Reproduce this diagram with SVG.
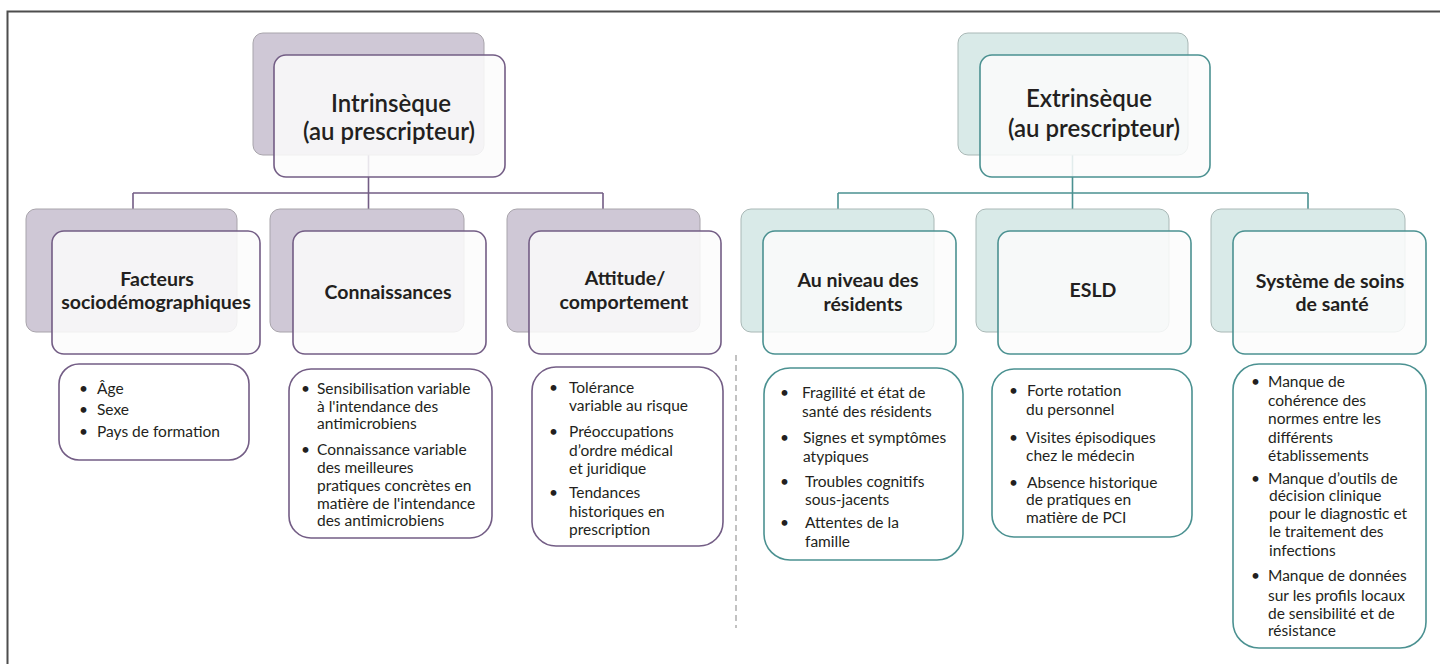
<svg xmlns="http://www.w3.org/2000/svg" width="1440" height="664" viewBox="0 0 1440 664">
  <style>
    .frame { fill: none; stroke: #4d4d4d; stroke-width: 2; }
    .back-p { fill: #cfc8d6; stroke: #a8a4ab; stroke-width: 1; }
    .back-t { fill: #d9eae8; stroke: #a9b8b6; stroke-width: 1; }
    .front-p { fill: #fbfbfc; fill-opacity: 0.86; stroke: #735d85; stroke-width: 1.6; }
    .front-t { fill: #fbfbfc; fill-opacity: 0.86; stroke: #4b9191; stroke-width: 1.6; }
    .list-p { fill: #ffffff; stroke: #735d85; stroke-width: 1.6; }
    .list-t { fill: #ffffff; stroke: #4b9191; stroke-width: 1.6; }
    .wire-p { fill: none; stroke: #735d85; stroke-width: 1.6; }
    .wire-t { fill: none; stroke: #4b9191; stroke-width: 1.6; }
    .divider { fill: none; stroke: #9a9a9a; stroke-width: 1.2; stroke-dasharray: 6 4; }
    .root { font-family: Lato, "Liberation Sans", sans-serif; font-weight: 600; font-size: 24px; fill: #231f20; text-anchor: middle; }
    .head { font-family: Lato, "Liberation Sans", sans-serif; font-weight: 700; font-size: 19.5px; fill: #231f20; text-anchor: middle; }
    .item { font-family: Lato, "Liberation Sans", sans-serif; font-size: 15.5px; fill: #231f20; }
  </style>

  <!-- outer frame (left and top edges) -->
  <path class="frame" d="M7.5 664 V11.5 H1440"/>

  <!-- connectors -->
  <g id="connectors">
    <path class="wire-p" d="M368.5 155 V193 M133 193 H603 M133 193 V209 M368.5 193 V209 M603 193 V209"/>
    <path class="wire-t" d="M1072.5 155 V193 M838 193 H1308 M838 193 V209 M1072.5 193 V209 M1308 193 V209"/>
    <path class="divider" d="M736 355 V628"/>
  </g>

  <!-- root: intrinsic factors -->
  <g id="intrinseque">
    <rect class="back-p" x="253" y="33" width="231" height="122" rx="10"/>
    <rect class="front-p" x="274" y="55" width="231" height="122" rx="12"/>
    <text class="root" x="391" y="112">Intrinsèque</text>
    <text class="root" x="389" y="140">(au prescripteur)</text>
  </g>

  <!-- root: extrinsic factors -->
  <g id="extrinseque">
    <rect class="back-t" x="958" y="33" width="230" height="122" rx="10"/>
    <rect class="front-t" x="980" y="55" width="230" height="122" rx="12"/>
    <text class="root" x="1089" y="107">Extrinsèque</text>
    <text class="root" x="1094" y="137">(au prescripteur)</text>
  </g>

  <!-- intrinsic categories -->
  <g id="sociodemographiques">
    <rect class="back-p" x="26" y="209" width="211" height="123" rx="10"/>
    <rect class="front-p" x="52" y="231" width="208" height="123" rx="12"/>
    <text class="head" x="157" y="286">Facteurs</text>
    <text class="head" x="156" y="309">sociodémographiques</text>
  </g>
  <g id="connaissances">
    <rect class="back-p" x="270" y="209" width="194" height="123" rx="10"/>
    <rect class="front-p" x="293" y="231" width="193" height="123" rx="12"/>
    <text class="head" x="388" y="299">Connaissances</text>
  </g>
  <g id="attitude">
    <rect class="back-p" x="507" y="209" width="193" height="123" rx="10"/>
    <rect class="front-p" x="529" y="231" width="192" height="123" rx="12"/>
    <text class="head" x="625" y="285">Attitude/</text>
    <text class="head" x="624" y="309">comportement</text>
  </g>

  <!-- extrinsic categories -->
  <g id="residents">
    <rect class="back-t" x="741" y="209" width="193" height="123" rx="10"/>
    <rect class="front-t" x="763" y="231" width="193" height="123" rx="12"/>
    <text class="head" x="858" y="287">Au niveau des</text>
    <text class="head" x="863" y="311">résidents</text>
  </g>
  <g id="esld">
    <rect class="back-t" x="976" y="209" width="193" height="123" rx="10"/>
    <rect class="front-t" x="998" y="231" width="193" height="123" rx="12"/>
    <text class="head" x="1093" y="297">ESLD</text>
  </g>
  <g id="systeme">
    <rect class="back-t" x="1211" y="209" width="194" height="123" rx="10"/>
    <rect class="front-t" x="1233" y="231" width="193" height="123" rx="12"/>
    <text class="head" x="1330" y="288">Système de soins</text>
    <text class="head" x="1332" y="311">de santé</text>
  </g>

  <!-- detail lists -->
  <g id="liste-sociodemographiques">
    <rect class="list-p" x="59" y="364" width="190" height="96" rx="20"/>
    <text class="item" x="79" y="394">•</text><text class="item" x="97" y="394">Âge</text>
    <text class="item" x="79" y="415">•</text><text class="item" x="97" y="415">Sexe</text>
    <text class="item" x="79" y="437">•</text><text class="item" x="97" y="437">Pays de formation</text>
  </g>
  <g id="liste-connaissances">
    <rect class="list-p" x="289" y="369" width="203" height="169" rx="22"/>
    <text class="item" x="301" y="394">•</text>
    <text class="item" x="317" y="394">Sensibilisation variable</text>
    <text class="item" x="317" y="412">à l'intendance des</text>
    <text class="item" x="317" y="429">antimicrobiens</text>
    <text class="item" x="301" y="455">•</text>
    <text class="item" x="317" y="455">Connaissance variable</text>
    <text class="item" x="317" y="473">des meilleures</text>
    <text class="item" x="317" y="491">pratiques concrètes en</text>
    <text class="item" x="317" y="509">matière de l'intendance</text>
    <text class="item" x="317" y="526">des antimicrobiens</text>
  </g>
  <g id="liste-attitude">
    <rect class="list-p" x="532" y="367" width="191" height="179" rx="24"/>
    <text class="item" x="549" y="393">•</text>
    <text class="item" x="569" y="393">Tolérance</text>
    <text class="item" x="569" y="411">variable au risque</text>
    <text class="item" x="549" y="437">•</text>
    <text class="item" x="569" y="437">Préoccupations</text>
    <text class="item" x="569" y="456">d’ordre médical</text>
    <text class="item" x="569" y="474">et juridique</text>
    <text class="item" x="549" y="498">•</text>
    <text class="item" x="569" y="498">Tendances</text>
    <text class="item" x="569" y="517">historiques en</text>
    <text class="item" x="569" y="535">prescription</text>
  </g>
  <g id="liste-residents">
    <rect class="list-t" x="764" y="368" width="199" height="192" rx="26"/>
    <text class="item" x="780" y="398">•</text>
    <text class="item" x="802" y="398">Fragilité et état de</text>
    <text class="item" x="802" y="417">santé des résidents</text>
    <text class="item" x="780" y="443">•</text>
    <text class="item" x="803" y="443">Signes et symptômes</text>
    <text class="item" x="803" y="462">atypiques</text>
    <text class="item" x="780" y="487">•</text>
    <text class="item" x="805" y="487">Troubles cognitifs</text>
    <text class="item" x="805" y="505">sous-jacents</text>
    <text class="item" x="780" y="528">•</text>
    <text class="item" x="805" y="528">Attentes de la</text>
    <text class="item" x="805" y="547">famille</text>
  </g>
  <g id="liste-esld">
    <rect class="list-t" x="992" y="369" width="200" height="168" rx="22"/>
    <text class="item" x="1009" y="396">•</text>
    <text class="item" x="1027" y="396">Forte rotation</text>
    <text class="item" x="1026" y="415">du personnel</text>
    <text class="item" x="1009" y="443">•</text>
    <text class="item" x="1026" y="443">Visites épisodiques</text>
    <text class="item" x="1026" y="461">chez le médecin</text>
    <text class="item" x="1009" y="488">•</text>
    <text class="item" x="1027" y="488">Absence historique</text>
    <text class="item" x="1026" y="505">de pratiques en</text>
    <text class="item" x="1026" y="523">matière de PCI</text>
  </g>
  <g id="liste-systeme">
    <rect class="list-t" x="1233" y="364" width="193" height="284" rx="26"/>
    <text class="item" x="1251" y="387">•</text>
    <text class="item" x="1268" y="387">Manque de</text>
    <text class="item" x="1268" y="406">cohérence des</text>
    <text class="item" x="1268" y="424">normes entre les</text>
    <text class="item" x="1268" y="443">différents</text>
    <text class="item" x="1268" y="461">établissements</text>
    <text class="item" x="1251" y="484">•</text>
    <text class="item" x="1268" y="484">Manque d’outils de</text>
    <text class="item" x="1269" y="501">décision clinique</text>
    <text class="item" x="1269" y="519">pour le diagnostic et</text>
    <text class="item" x="1269" y="537">le traitement des</text>
    <text class="item" x="1269" y="556">infections</text>
    <text class="item" x="1251" y="581">•</text>
    <text class="item" x="1268" y="581">Manque de données</text>
    <text class="item" x="1268" y="601">sur les profils locaux</text>
    <text class="item" x="1268" y="619">de sensibilité et de</text>
    <text class="item" x="1268" y="636">résistance</text>
  </g>
</svg>
